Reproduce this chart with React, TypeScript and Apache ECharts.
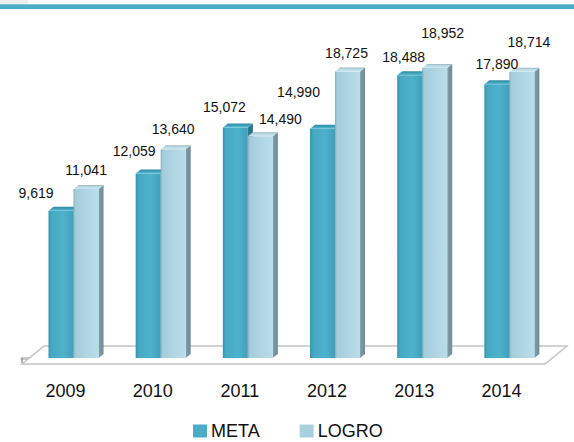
import React, { useEffect, useRef } from 'react';
import * as echarts from 'echarts';

// ---- data ----
const years = ['2009', '2010', '2011', '2012', '2013', '2014'];
const metaValues = [9619, 12059, 15072, 14990, 18488, 17890];
const logroValues = [11041, 13640, 14490, 18725, 18952, 18714];
const seriesNames = ['META', 'LOGRO'];

// ---- layout (label nudges relative to the top centre of each bar, px) ----
const metaLabelNudge = [[-25, -14], [-14, -18], [-11, -16], [-24, -33], [-6, -14], [0, -16]];
const logroLabelNudge = [[0, -15], [0, -16], [20, -13], [-1, -15], [8, -31], [7, -26]];

const FONT = '"Liberation Sans", Arial, sans-serif';
const DX = 5;
const DY = -4;
const WIDTH_FRAC = 0.287;
const START_FRAC = [-0.196, 0.091];

const fmt = (v: number) => String(Math.round(v)).replace(/\B(?=(\d{3})+(?!\d))/g, ',');

function geom(api: any, i: number, v: number, s: number) {
  const top = api.coord([i, v]);
  const base = api.coord([i, 0]);
  const band = api.size([1, 0])[0];
  const w = band * WIDTH_FRAC;
  const x = top[0] + band * START_FRAC[s];
  return { x, w, yT: top[1], yB: base[1] };
}

const LG = (x2: number, y2: number, stops: [number, string][]) =>
  new echarts.graphic.LinearGradient(0, 0, x2, y2, stops.map(([offset, color]) => ({ offset, color })));

const palette = [
  {
    front: () => LG(1, 0, [[0, '#3794AE'], [0.12, '#46A8C3'], [0.6, '#4FB2CC'], [1, '#409FBA']]),
    cap: () => LG(0, 1, [[0, '#2F8AA3'], [0.5, '#3FA0BA'], [1, '#5BBCD4']]),
    side: () => LG(1, 0, [[0, '#2C7B91'], [1, '#266E82']]),
  },
  {
    front: () => LG(1, 0, [[0, '#86AFBE'], [0.08, '#A4CCDB'], [0.6, '#B2D7E4'], [1, '#B9DDE9']]),
    cap: () => LG(0, 1, [[0, '#98B4BE'], [0.4, '#BBD9E3'], [1, '#CDE7F0']]),
    side: () => LG(1, 0, [[0, '#809FAA'], [1, '#6C8B96']]),
  },
];

function barRenderer(s: number) {
  return (params: any, api: any) => {
    const i = api.value(0);
    const v = api.value(1);
    const { x, w, yT, yB } = geom(api, i, v, s);
    const p = palette[s];
    return {
      type: 'group',
      children: [
        {
          type: 'polygon',
          shape: { points: [[x + w, yT], [x + w + DX, yT + DY], [x + w + DX, yB + DY], [x + w, yB]] },
          style: { fill: p.side() },
        },
        {
          type: 'rect',
          shape: { x, y: yT, width: w, height: yB - yT },
          style: { fill: p.front() },
        },
        {
          type: 'polygon',
          shape: { points: [[x, yT], [x + DX, yT + DY], [x + w + DX, yT + DY], [x + w, yT]] },
          style: { fill: p.cap() },
        },
      ],
    };
  };
}

function labelRenderer(params: any, api: any) {
  const i = api.value(0);
  const v = api.value(1);
  const s = api.value(2);
  const { x, w, yT } = geom(api, i, v, s);
  const n = (s === 0 ? metaLabelNudge : logroLabelNudge)[i];
  return {
    type: 'text',
    x: x + w / 2 + n[0],
    y: yT + DY + n[1],
    style: {
      text: fmt(v),
      fill: '#111111',
      font: '14px ' + FONT,
      align: 'center',
      verticalAlign: 'middle',
      textAlign: 'center',
      textVerticalAlign: 'middle',
    },
  };
}

function floorRenderer(params: any) {
  const cs = params.coordSys;
  const x0 = cs.x;
  const x1 = cs.x + cs.width;
  const yF = cs.y + cs.height + 6;
  const fdx = 22;
  const fdy = -18;
  return {
    type: 'group',
    children: [
      {
        type: 'polygon',
        shape: { points: [[x0, yF], [x0 + fdx, yF + fdy], [x1 + fdx, yF + fdy], [x1, yF]] },
        style: { fill: '#FFFFFF', stroke: '#C3C3C3', lineWidth: 1.5 },
      },
    ],
  };
}

export default function App() {
  const ref = useRef<HTMLDivElement>(null);
  useEffect(() => {
    if (!ref.current) return;
    const chart = echarts.init(ref.current, undefined, { renderer: 'svg' });
    const labelData: number[][] = [];
    years.forEach((_, i) => {
      labelData.push([i, metaValues[i], 0]);
      labelData.push([i, logroValues[i], 1]);
    });
    chart.setOption({
      animation: false,
      backgroundColor: '#FFFFFF',
      grid: { left: 22, right: 29, top: 52, bottom: 84 },
      xAxis: {
        type: 'category',
        data: years,
        offset: 6,
        axisLine: { show: true, lineStyle: { color: '#C6C6C6', width: 3 } },
        axisTick: { show: true, length: 5, lineStyle: { color: '#9A9A9A', width: 1.5 } },
        axisLabel: { margin: 18, color: '#111111', fontSize: 18, fontFamily: FONT },
        splitLine: { show: false },
      },
      yAxis: { type: 'value', min: 0, max: 20000, show: false },
      legend: {
        data: seriesNames,
        left: 188,
        top: 417,
        itemWidth: 14,
        itemHeight: 13,
        itemGap: 40,
        icon: 'rect',
        textStyle: { color: '#111111', fontSize: 18, lineHeight: 18, fontFamily: FONT, padding: [0, 0, 0, -1] },
      },
      graphic: [
        { type: 'rect', shape: { x: 0, y: 4, width: 574, height: 5 }, style: { fill: '#4BADC7' } },
        { type: 'rect', shape: { x: 0, y: 4, width: 574, height: 1 }, style: { fill: '#7FC6D8' } },
        { type: 'rect', shape: { x: 0, y: 0, width: 28, height: 4 }, style: { fill: '#EEEEEE' } },
      ],
      series: [
        {
          type: 'custom',
          name: 'floor',
          silent: true,
          z: 1,
          renderItem: floorRenderer,
          data: [[0, 0]],
          encode: { x: 0, y: 1 },
        },
        {
          type: 'custom',
          name: seriesNames[0],
          z: 3,
          renderItem: barRenderer(0),
          itemStyle: { color: '#4BACC6' },
          data: metaValues.map((v, i) => [i, v]),
          encode: { x: 0, y: 1 },
        },
        {
          type: 'custom',
          name: seriesNames[1],
          z: 4,
          renderItem: barRenderer(1),
          itemStyle: { color: '#A9D0DE' },
          data: logroValues.map((v, i) => [i, v]),
          encode: { x: 0, y: 1 },
        },
        {
          type: 'custom',
          name: 'labels',
          silent: true,
          z: 6,
          renderItem: labelRenderer,
          data: labelData,
          encode: { x: 0, y: 1 },
        },
      ],
    });
    return () => chart.dispose();
  }, []);
  return (
    <div
      ref={ref}
      style={{ position: 'fixed', left: 0, top: 0, width: 574, height: 442, background: '#FFFFFF' }}
    />
  );
}
